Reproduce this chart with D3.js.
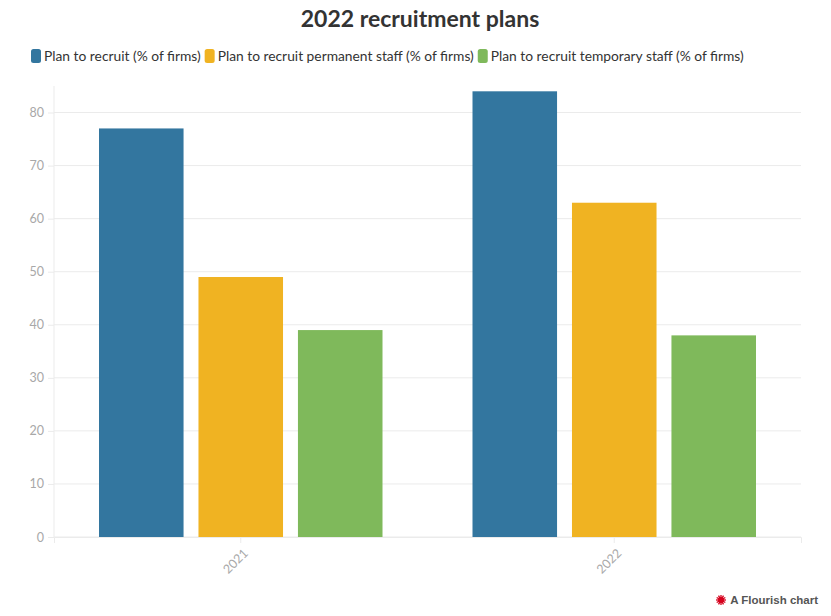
<!DOCTYPE html>
<html><head><meta charset="utf-8">
<script src="https://cdn.jsdelivr.net/npm/d3@7"></script>
<style>body{margin:0;background:#fff;font-family:Lato,"Open Sans",sans-serif;}</style>
</head><body><svg id="c" width="831" height="616"></svg>
<script>
const categories = ["2021", "2022"];
const seriesNames = ["Plan to recruit (% of firms)", "Plan to recruit permanent staff (% of firms)", "Plan to recruit temporary staff (% of firms)"];
const planToRecruit = [77, 84];
const planPermanent = [49, 63];
const planTemporary = [39, 38];
const yTicks = [0, 10, 20, 30, 40, 50, 60, 70, 80];
const colors = ["#33769f", "#f0b322", "#7fb95b"];
const series = [planToRecruit, planPermanent, planTemporary];

const svg = d3.select("#c");
const m = {l: 54, r: 801, t: 86, b: 537};
const x = d3.scaleBand().domain(categories).range([m.l, m.r]).paddingInner(0).paddingOuter(0);
const x1 = d3.scaleBand().domain(d3.range(series.length)).range([45, x.bandwidth() - 45]).paddingInner(0.15);
const y = d3.scaleLinear().domain([0, 85]).range([m.b, m.t]);

svg.append("text").attr("x", 420).attr("y", 27).attr("text-anchor", "middle")
  .attr("font-size", 23).attr("font-weight", 700).attr("fill", "#333").text("2022 recruitment plans");

// legend
let lx = 31;
const lg = svg.append("g");
seriesNames.forEach((n, i) => {
  lg.append("rect").attr("x", lx).attr("y", 49).attr("width", 10).attr("height", 14).attr("rx", 2.5).attr("fill", colors[i]);
  const t = lg.append("text").attr("x", lx + 13).attr("y", 61).attr("font-size", 13.8).attr("fill", "#333").text(n);
  lx += 13 + t.node().getComputedTextLength() + 4;
});

// grid
svg.append("g").selectAll("line").data(yTicks).join("line")
  .attr("x1", m.l).attr("x2", m.r).attr("y1", d => y(d)).attr("y2", d => y(d))
  .attr("stroke", "#ebebeb").attr("stroke-width", 1);
svg.append("line").attr("x1", m.l).attr("x2", m.l).attr("y1", m.t).attr("y2", m.b).attr("stroke", "#ebebeb");

const yAxis = svg.append("g").attr("transform", `translate(${m.l},0)`)
  .call(d3.axisLeft(y).tickValues(yTicks).tickSize(6).tickPadding(4));
yAxis.select(".domain").remove();
yAxis.selectAll("line").attr("stroke", "#ebebeb");
yAxis.selectAll("text").attr("fill", "#a8a8a8").attr("font-size", 12.5).attr("font-family", "Lato, sans-serif");

// bars
categories.forEach((c, ci) => {
  series.forEach((s, si) => {
    svg.append("rect").attr("x", x(c) + x1(si)).attr("width", x1.bandwidth())
      .attr("y", y(s[ci])).attr("height", y(0) - y(s[ci])).attr("fill", colors[si]);
  });
});

const xAxis = svg.append("g").attr("transform", `translate(0,${m.b})`)
  .call(d3.axisBottom(x).tickSize(6).tickPadding(4));
xAxis.select(".domain").attr("stroke", "#ebebeb");
xAxis.selectAll("line").attr("stroke", "#ebebeb");
xAxis.selectAll("text").attr("fill", "#a8a8a8").attr("font-size", 12.5).attr("font-family", "Lato, sans-serif")
  .attr("text-anchor", "end").attr("x", 0).attr("y", 0).attr("dy", "0.35em")
  .attr("transform", "translate(5,14) rotate(-45)");

// footer
const f = svg.append("g").attr("transform", "translate(721,600)");
d3.range(12).forEach(i => {
  const a = i * Math.PI / 6;
  f.append("line").attr("x1", 0).attr("y1", 0).attr("x2", 5 * Math.cos(a)).attr("y2", 5 * Math.sin(a))
    .attr("stroke", "#d6001c").attr("stroke-width", 1.3);
});
f.append("circle").attr("r", 3).attr("fill", "#d6001c");
svg.append("text").attr("x", 818).attr("y", 604).attr("text-anchor", "end").attr("font-size", 11.5)
  .attr("font-weight", 700).attr("fill", "#555").attr("font-family", "Arial, Liberation Sans, sans-serif").text("A Flourish chart");
</script></body></html>
